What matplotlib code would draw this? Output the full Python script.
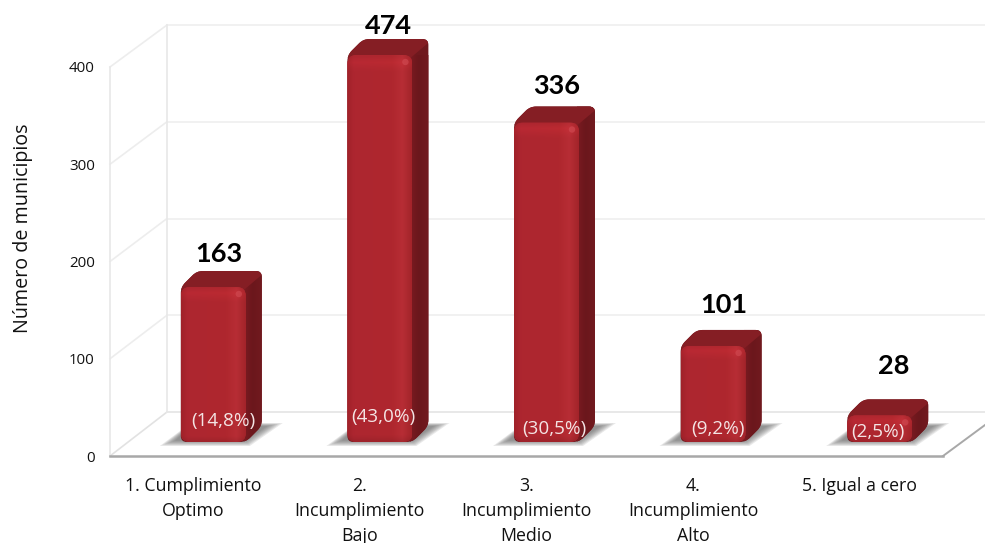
import numpy as np
import matplotlib
matplotlib.use("Agg")
import matplotlib.pyplot as plt
from matplotlib.lines import Line2D
from matplotlib.path import Path
from matplotlib.patches import PathPatch, Polygon, Circle
from matplotlib.transforms import IdentityTransform

categories = ["1. Cumplimiento\nOptimo", "2.\nIncumplimiento\nBajo", "3.\nIncumplimiento\nMedio",
              "4.\nIncumplimiento\nAlto", "5. Igual a cero"]
values = [163, 474, 336, 101, 28]
shares = ["(14,8%)", "(43,0%)", "(30,5%)", "(9,2%)", "(2,5%)"]
y_ticks = [0, 100, 200, 300, 400]
y_title = "Número de municipios"

W, H = 985, 543
plt.rcParams["font.family"] = ["Open Sans", "DejaVu Sans"]
ident = IdentityTransform()


def Y(p):
    return H - p


fig = plt.figure(figsize=(W / 100, H / 100), dpi=100, facecolor="white")

# main axes = front plane of the 3D box
ax = fig.add_axes([110 / W, Y(456) / H, 833 / W, 389 / H])
ax.set_xlim(-0.5, 4.5)
ax.set_ylim(0, 400)
ax.patch.set_alpha(0)
for s in ["top", "right"]:
    ax.spines[s].set_visible(False)
ax.spines["left"].set_color("#E8E8E8")
ax.spines["left"].set_linewidth(1.2)
ax.spines["bottom"].set_color("#A8A8A8")
ax.spines["bottom"].set_linewidth(1.8)
ax.set_xticks(range(len(categories)))
ax.set_xticklabels(categories, fontsize=12.8, linespacing=1.5, color="#111111")
ax.set_yticks(y_ticks)
ax.tick_params(axis="x", length=0, pad=15)
ax.tick_params(axis="y", length=0, pad=11, labelsize=10.8, labelcolor="#111111")
ax.set_ylabel(y_title, fontsize=14.2, color="#111111")
ax.yaxis.set_label_coords((33 - 110) / 833, (456 - 228) / 389)

# walls: back plane is shifted from the front plane
for t in y_ticks:
    py = 456 - t * 389 / 400
    pb = 412 - t * 0.9675
    col = "#EDEDED" if t else "#E2E2E2"
    fig.add_artist(Line2D([110, 167], [Y(py), Y(pb)], color=col, lw=1.2, transform=ident, zorder=-1))
    fig.add_artist(Line2D([167, 985], [Y(pb), Y(pb)], color="#F0F0F0" if t else "#E6E6E6", lw=1.3,
                          transform=ident, zorder=-1))
fig.add_artist(Line2D([167, 167], [Y(412), Y(25)], color="#E8E8E8", lw=1.2, transform=ident, zorder=-1))
fig.add_artist(Line2D([943, 985], [Y(456), Y(425)], color="#A8A8A8", lw=1.4, transform=ident, zorder=-1))

# bars axes: plane in the middle of the floor
ax2 = fig.add_axes([130 / W, Y(442) / H, 833 / W, 387 / H])
ax2.set_xlim(-0.5, 4.5)
ax2.set_ylim(0, 407)
ax2.axis("off")


def rounded(pts, r):
    pts = [np.array(p, float) for p in pts]
    n = len(pts)
    verts, codes = [], []
    for i in range(n):
        p, a, b = pts[i], pts[i - 1], pts[(i + 1) % n]
        ra = min(r, np.linalg.norm(a - p) / 2)
        rb = min(r, np.linalg.norm(b - p) / 2)
        s = p + (a - p) / np.linalg.norm(a - p) * ra
        e = p + (b - p) / np.linalg.norm(b - p) * rb
        verts.append(s)
        codes.append(Path.MOVETO if i == 0 else Path.LINETO)
        verts += [p, e]
        codes += [Path.CURVE3, Path.CURVE3]
    verts.append(verts[0])
    codes.append(Path.CLOSEPOLY)
    return Path(verts, codes)


def clip_to(artist, patch):
    artist.set_clip_path(patch)
    artist.set_clip_box(None)
    artist.set_clip_on(True)


def gradient(a, stops_h, stops_v, box, clip, z):
    xs = np.linspace(0, 1, 64)
    ys = np.linspace(0, 1, 128)
    pos = [s[0] for s in stops_h]
    rgb = np.array([matplotlib.colors.to_rgb(s[1]) for s in stops_h])
    h = np.stack([np.interp(xs, pos, rgb[:, k]) for k in range(3)], axis=1)
    v = np.interp(ys, [s[0] for s in stops_v], [s[1] for s in stops_v])
    img = np.clip(h[None, :, :] * v[:, None, None], 0, 1)
    im = a.imshow(img, extent=box, origin="upper", aspect="auto", transform=ident,
                  zorder=z, interpolation="bilinear")
    clip_to(im, clip)
    return im


bars = ax2.bar(range(len(values)), values, width=65 / 166.6, color="#AE2830", linewidth=0, zorder=3)
fig.canvas.draw()

D_X, D_Y = 16, 16
value_offsets = [(6, 17), (9, 13), (10, 21), (11, 25), (14, 33)]
share_offsets = [(10, 21), (3, 25), (8, 13), (5, 13), (-2, 10)]
axtop = ax2.get_window_extent().y1

for bar, val, share, vo, so in zip(bars, values, shares, value_offsets, share_offsets):
    bb = bar.get_window_extent()
    x0, x1, y0 = bb.x0, bb.x1, bb.y0
    y1 = min(bb.y1, axtop)
    r = min(9, (y1 - y0) / 2.5)

    # floor shadow
    for k in range(7):
        i = k * 2.5
        poly = [(x0 - 21 + i, y0 - 4 + i * 0.35), (x1 + 4 - i * 0.3, y0 - 4 + i * 0.35),
                (x1 + 37 - i, y0 + 19 - i * 0.2), (x0 + 10, y0 + 19 - i * 0.2)]
        ax2.add_patch(Polygon(poly, closed=True, transform=ident, facecolor="#555555", edgecolor="none",
                              alpha=0.13, zorder=1, clip_on=False))

    # silhouette with side colour: tighter corners so the top-left chamfer reads as a diagonal
    sil = rounded([(x0, y0), (x1, y0), (x1 + D_X, y0 + D_Y), (x1 + D_X, y1 + D_Y),
                   (x0 + D_X, y1 + D_Y), (x0, y1)], min(r, 6))
    ax2.add_patch(PathPatch(sil, transform=ident, facecolor="#6F191E", edgecolor="none", zorder=2,
                            clip_on=False))
    sil_clip = PathPatch(sil, transform=ident, facecolor="none", edgecolor="none", clip_on=False)
    ax2.add_patch(sil_clip)

    gradient(ax2, [(0, "#7B1B21"), (0.45, "#6B171C"), (1, "#721A1F")], [(0, 1.0), (1, 1.0)],
             (x1 - 2, x1 + D_X + 1, y0 - 1, y1 + D_Y + 1), sil_clip, 2.1)
    # top face
    top = Polygon([(x0 - 1, y1 - 3), (x1 - 2, y1 - 3), (x1 + D_X + 1, y1 + D_Y - 3),
                   (x1 + D_X + 1, y1 + D_Y + 1), (x0 - 1, y1 + D_Y + 1)],
                  closed=True, transform=ident, facecolor="#851E24", edgecolor="none", zorder=2.2)
    ax2.add_patch(top)
    clip_to(top, sil_clip)

    # front face with rounded corners
    front = rounded([(x0, y0), (x1, y0), (x1, y1), (x0, y1)], r)
    fc = PathPatch(front, transform=ident, facecolor="none", edgecolor="none", clip_on=False)
    ax2.add_patch(fc)
    clip_to(bar, fc)
    rim = 9.0 / max(y1 - y0, 18)
    gradient(ax2, [(0, "#A0222A"), (0.1, "#AD2630"), (0.7, "#AF272E"), (0.86, "#B72D35"), (1, "#A3242A")],
             [(0, 1.0), (rim * 0.6, 1.07), (rim * 1.6, 1.0), (1 - rim * 0.6, 1.0), (1, 0.92)],
             (x0, x1, y0, y1), fc, 3.1)
    spot = Circle((x1 - 7, y1 - 7), 3.2, transform=ident, facecolor="#D04A52", edgecolor="none",
                  alpha=0.65, zorder=3.2, clip_on=False)
    ax2.add_patch(spot)

    cx = (x0 + x1) / 2
    ax2.text(cx + vo[0], y1 + D_Y + vo[1], str(val), transform=ident, ha="center", va="center",
             fontsize=19.5, fontweight="bold", family="Lato", color="black", zorder=6, clip_on=False)
    ax2.text(cx + so[0], y0 + so[1], share, transform=ident, ha="center", va="center",
             fontsize=13.6, color="#F4E4E4", zorder=6, clip_on=False)

ax2.set_xlim(-0.5, 4.5)
ax2.set_ylim(0, 407)
fig.savefig("out.png", dpi=100, facecolor="white")
